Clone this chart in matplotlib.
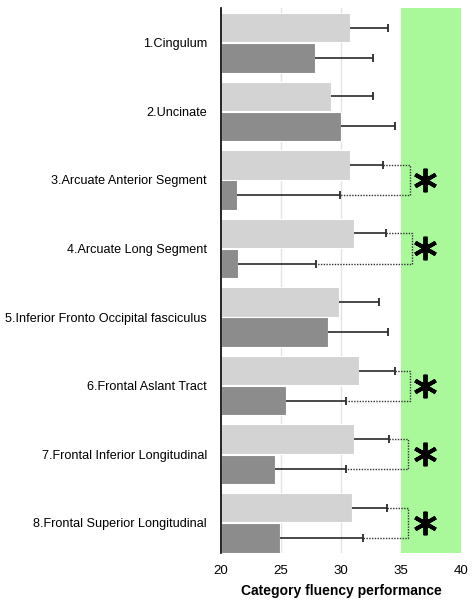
import matplotlib
matplotlib.use("Agg")
import matplotlib.pyplot as plt
from matplotlib.markers import MarkerStyle
import numpy as np

categories = ["1.Cingulum", "2.Uncinate", "3.Arcuate Anterior Segment",
              "4.Arcuate Long Segment", "5.Inferior Fronto Occipital fasciculus",
              "6.Frontal Aslant Tract", "7.Frontal Inferior Longitudinal",
              "8.Frontal Superior Longitudinal"]
light_vals = [30.75, 29.2, 30.75, 31.1, 29.8, 31.5, 31.1, 30.95]
light_err_end = [33.9, 32.7, 33.5, 33.75, 33.2, 34.5, 34.0, 33.8]
dark_vals = [27.8, 30.0, 21.3, 21.45, 28.9, 25.4, 24.5, 24.9]
dark_err_end = [32.7, 34.5, 29.9, 27.9, 33.9, 30.4, 30.4, 31.8]
significant = [False, False, True, True, False, True, True, True]
bracket_x = [None, None, 35.7, 35.9, None, 35.7, 35.6, 35.6]
xticks = [20, 25, 30, 35, 40]

plt.rcParams['font.family'] = ['Liberation Sans', 'DejaVu Sans']

fig = plt.figure(figsize=(4.73, 6.01), dpi=100)
ax = fig.add_axes([0.467, 0.080, 0.508, 0.907])

ax.axvspan(35, 40, color='#a9f89a', zorder=0, lw=0)
for gx in [25, 30]:
    ax.axvline(gx, color='#e4e4e4', lw=1, zorder=0.5)

y = np.arange(len(categories))
off = 0.22
h = 0.43
light = np.array(light_vals)
dark = np.array(dark_vals)
ax.barh(y - off, light - 20, left=20, height=h, color='#d3d3d3', edgecolor='white', lw=0.8, zorder=2)
ax.barh(y + off, dark - 20, left=20, height=h, color='#8c8c8c', edgecolor='white', lw=0.8, zorder=2)

ecol = '#2a2a2a'
ax.hlines(y - off, light, light_err_end, color=ecol, lw=1.2, zorder=3)
ax.hlines(y + off, dark, dark_err_end, color=ecol, lw=1.2, zorder=3)
ax.plot(light_err_end, y - off, ls='none', marker='|', ms=6, mew=1.3, color=ecol, zorder=3)
ax.plot(dark_err_end, y + off, ls='none', marker='|', ms=6, mew=1.3, color=ecol, zorder=3)

star = MarkerStyle((6, 2, 0), capstyle='round')
for i, sig in enumerate(significant):
    if sig:
        bx = bracket_x[i]
        ax.plot([light_err_end[i], bx, bx, dark_err_end[i]],
                [i - off, i - off, i + off, i + off],
                ls=(0, (1, 1)), color='#333333', lw=1.0, zorder=3)
        ax.plot([37.0], [i], ls='none', marker=star, ms=17, mew=2.8,
                color='black', zorder=4)

ax.set_xlim(20, 40)
ax.set_ylim(7.44, -0.51)
ax.set_yticks(y)
ax.set_yticklabels(categories, fontsize=9.1)
ax.set_xticks(xticks)
ax.set_xticklabels([str(t) for t in xticks], fontsize=9.5)
ax.tick_params(axis='y', length=0, pad=10)
ax.tick_params(axis='x', length=0, pad=9)
for s in ['top', 'right', 'bottom']:
    ax.spines[s].set_visible(False)
ax.spines['left'].set_color('black')
ax.spines['left'].set_linewidth(1.2)
ax.set_xlabel("Category fluency performance", fontsize=10, fontweight='bold', labelpad=5)

fig.savefig("out.png", dpi=100)
